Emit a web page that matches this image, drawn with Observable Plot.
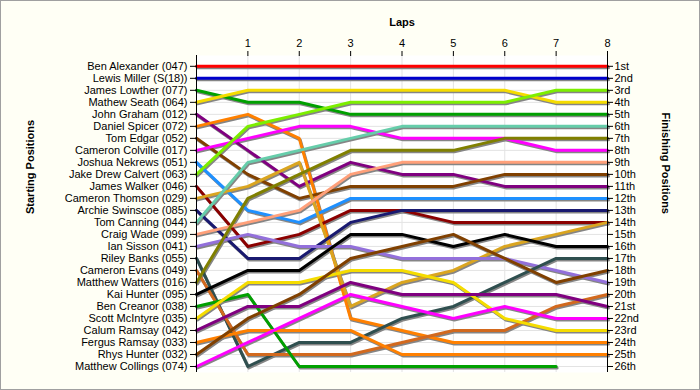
<!DOCTYPE html>
<html>
<head>
<meta charset="utf-8">
<script src="https://cdn.jsdelivr.net/npm/d3@7"></script>
<script src="https://cdn.jsdelivr.net/npm/@observablehq/plot@0.6"></script>
<style>
  body { margin: 0; background: #fffff5; }
  #chart { width: 700px; height: 390px; }
</style>
</head>
<body>
<div id="chart"></div>
<script>
// Starting grid order (top to bottom)
const drivers = [
  "Ben Alexander (047)", "Lewis Miller (S(18))", "James Lowther (077)", "Mathew Seath (064)",
  "John Graham (012)", "Daniel Spicer (072)", "Tom Edgar (052)", "Cameron Colville (017)",
  "Joshua Nekrews (051)", "Jake Drew Calvert (063)", "James Walker (046)", "Cameron Thomson (029)",
  "Archie Swinscoe (085)", "Tom Canning (044)", "Craig Wade (099)", "Ian Sisson (041)",
  "Riley Banks (055)", "Cameron Evans (049)", "Matthew Watters (016)", "Kai Hunter (095)",
  "Ben Creanor (038)", "Scott McIntyre (035)", "Calum Ramsay (042)", "Fergus Ramsay (033)",
  "Rhys Hunter (032)", "Matthew Collings (074)"
];

// Position of each driver at laps 0..8 (same order as drivers)
const lapPositions = [
  [1, 1, 1, 1, 1, 1, 1, 1, 1],
  [2, 2, 2, 2, 2, 2, 2, 2, 2],
  [3, 4, 4, 5, 5, 5, 5, 5, 5],
  [4, 3, 3, 3, 3, 3, 3, 4, 4],
  [5, 8, 11, 9, 10, 10, 11, 11, 11],
  [6, 5, 7, 22, 23, 24, 24, 24, 24],
  [7, 10, 12, 11, 11, 11, 10, 10, 10],
  [8, 7, 6, 6, 7, 7, 7, 8, 8],
  [9, 13, 14, 12, 12, 12, 12, 12, 12],
  [10, 6, 5, 4, 4, 4, 4, 3, 3],
  [11, 16, 15, 13, 13, 14, 14, 14, 14],
  [12, 11, 9, 21, 19, 18, 16, 15, 14],
  [13, 17, 17, 14, 13, 13, 13, 13, 13],
  [14, 9, 8, 7, 6, 6, 6, 6, 6],
  [15, 14, 13, 10, 9, 9, 9, 9, 9],
  [16, 15, 16, 16, 17, 17, 17, 18, 19],
  [17, 26, 24, 24, 22, 21, 19, 17, 17],
  [18, 25, 25, 25, 24, 23, 23, 21, 20],
  [19, 12, 10, 8, 8, 8, 7, 7, 7],
  [20, 18, 18, 15, 15, 16, 15, 16, 16],
  [21, 20, 26, 26, 26, 26, 26, 26],
  [22, 19, 19, 18, 18, 19, 22, 23, 23],
  [23, 21, 21, 19, 20, 20, 20, 20, 21],
  [24, 23, 23, 23, 25, 25, 25, 25, 25],
  [25, 22, 20, 17, 16, 15, 17, 19, 18],
  [26, 24, 22, 20, 21, 22, 21, 22, 22]
];

const lapTicks = [1, 2, 3, 4, 5, 6, 7, 8];
const allLaps = [0, 1, 2, 3, 4, 5, 6, 7, 8];
const positionTicks = d3.range(1, 27);
const finishLabels = [
  "1st", "2nd", "3rd", "4th", "5th", "6th", "7th", "8th", "9th", "10th", "11th", "12th", "13th",
  "14th", "15th", "16th", "17th", "18th", "19th", "20th", "21st", "22nd", "23rd", "24th", "25th", "26th"
];

// line colours (style)
const palette = [
  "#ff0000", "#0000cc", "#00a000", "#f5dc00", "#800080", "#ff8000", "#804000", "#ff00ff",
  "#1e90ff", "#7cee00", "#8b0000", "#daa520", "#191970", "#66cdaa", "#ffa07a", "#9370db",
  "#2f4f4f", "#d2691e", "#808000", "#000000", "#00a000", "#f5dc00", "#800080", "#ff8000",
  "#804000", "#ff00ff"
];

const data = drivers.flatMap((name, i) =>
  lapPositions[i].map((p, k) => ({ driver: name, lap: k, pos: p }))
);

const chart = Plot.plot({
  width: 700,
  height: 390,
  marginLeft: 196,
  marginRight: 93,
  marginTop: 55,
  marginBottom: 18,
  style: {
    background: "#fffff5",
    fontFamily: "'Liberation Sans', Arial, sans-serif",
    fontSize: "11px",
    color: "#000"
  },
  x: { domain: [0, 8], axis: null },
  y: { domain: [26.5, 0.1], axis: null },
  color: { domain: drivers, range: palette },
  marks: [
    Plot.frame({ fill: "white", stroke: null }),
    Plot.gridX(allLaps, { stroke: "#e3e3e3", strokeOpacity: 1 }),
    Plot.gridY(positionTicks, { stroke: "#e3e3e3", strokeOpacity: 1 }),
    Plot.line(data, { x: "lap", y: "pos", z: "driver", stroke: "#858585", strokeWidth: 3, dx: 1, dy: 1.5 }),
    Plot.line(data, { x: "lap", y: "pos", z: "driver", stroke: "driver", strokeWidth: 3 }),
    Plot.ruleX([0, 8], { stroke: "#000", strokeWidth: 1 }),
    Plot.axisY(positionTicks, {
      anchor: "left", tickFormat: d => drivers[d - 1], tickSize: 6, tickPadding: 3,
      label: null, stroke: "#000", fill: "#000"
    }),
    Plot.axisY(positionTicks, {
      anchor: "right", tickFormat: d => finishLabels[d - 1], tickSize: 5, tickPadding: 2,
      label: null, stroke: "#000", fill: "#000"
    }),
    Plot.axisX(lapTicks, {
      anchor: "top", tickSize: 5, tickPadding: 4, label: null, stroke: "#000", fill: "#000"
    }),
    Plot.text(["Laps"], { frameAnchor: "top", dy: -37, fontWeight: "bold", fill: "#000" }),
    Plot.text(["Starting Positions"], { frameAnchor: "left", dx: -166, rotate: -90, fontWeight: "bold", fill: "#000" }),
    Plot.text(["Finishing Positions"], { frameAnchor: "right", dx: 58, rotate: 90, fontWeight: "bold", fill: "#000" })
  ]
});

d3.select(chart).append("rect")
  .attr("x", 0.5).attr("y", 0.5).attr("width", 699).attr("height", 389)
  .attr("fill", "none").attr("stroke", "#a0a0a0");

document.getElementById("chart").appendChild(chart);
</script>
</body>
</html>
